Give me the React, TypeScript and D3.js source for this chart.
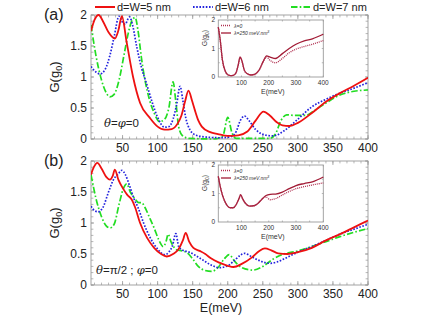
import React from "react";
import * as d3 from "d3";

// ---------- data ----------
const seriesNames = ["d=W=5 nm", "d=W=6 nm", "d=W=7 nm"];
const xTicks = [50, 100, 150, 200, 250, 300, 350, 400];
const yTicks = [0, 0.5, 1, 1.5, 2];
const yTickLabels = ["0", "0.5", "1", "1.5", "2"];
const insetXTicks = [100, 200, 300, 400];
const insetYTicks = [0, 1, 2];
const insetLegend = ["λ=0", "λ=250 meV.nm"];

// panel (a)
const aRedE = [5, 10, 16, 22, 30, 39, 44, 49, 56, 65, 75, 89, 100, 110, 120, 128, 134, 139, 144, 149, 153, 158, 163, 175, 186, 200, 215, 228, 240, 251, 260, 270, 278, 288, 300, 320, 340, 360, 380, 400];
const aRedG = [1.74, 1.92, 2.0, 1.9, 1.72, 1.62, 1.75, 1.98, 1.55, 1.0, 0.58, 0.34, 0.2, 0.15, 0.16, 0.24, 0.38, 0.6, 0.78, 0.62, 0.47, 0.3, 0.2, 0.11, 0.08, 0.05, 0.06, 0.12, 0.3, 0.44, 0.38, 0.27, 0.22, 0.21, 0.26, 0.42, 0.6, 0.74, 0.86, 0.99];
const aBlueE = [5, 12, 18, 25, 32, 38, 45, 50, 54, 57, 60, 64, 70, 77, 84, 92, 100, 110, 116, 122, 127, 132, 136, 140, 146, 155, 170, 190, 205, 212, 218, 224, 230, 240, 255, 265, 280, 300, 320, 340, 360, 380, 400];
const aBlueG = [1.17, 1.08, 1.05, 1.12, 1.35, 1.65, 1.98, 1.88, 1.85, 1.92, 1.97, 1.85, 1.5, 1.15, 0.9, 0.6, 0.35, 0.19, 0.2, 0.32, 0.55, 0.85, 0.62, 0.35, 0.15, 0.06, 0.03, 0.02, 0.04, 0.12, 0.3, 0.37, 0.3, 0.15, 0.06, 0.05, 0.13, 0.32, 0.52, 0.64, 0.74, 0.82, 0.91];
const aGreenE = [5, 12, 20, 27, 32, 38, 45, 52, 58, 63, 68, 72, 77, 82, 88, 95, 103, 110, 116, 122, 126, 130, 135, 145, 180, 193, 200, 206, 212, 260, 268, 276, 284, 295, 310, 325, 340, 360, 380, 400];
const aGreenG = [1.84, 1.35, 0.95, 0.74, 0.68, 0.72, 0.95, 1.35, 1.7, 1.9, 1.96, 1.75, 1.3, 0.95, 0.65, 0.42, 0.28, 0.32, 0.5, 0.92, 0.6, 0.2, 0.06, 0.01, 0.0, 0.05, 0.35, 0.1, 0.01, 0.01, 0.08, 0.3, 0.39, 0.38, 0.38, 0.47, 0.58, 0.71, 0.77, 0.79];

// panel (b)
const bRedE = [5, 9, 14, 20, 27, 32, 36, 39, 44, 51, 57, 63, 68, 75, 85, 95, 105, 113, 122, 130, 136, 140, 145, 151, 160, 168, 176, 188, 200, 208, 220, 235, 245, 253, 262, 272, 285, 300, 320, 340, 360, 380, 400];
const bRedG = [1.78, 1.9, 1.97, 1.88, 1.74, 1.7, 1.76, 1.86, 1.7, 1.55, 1.45, 1.38, 1.25, 1.0, 0.76, 0.6, 0.5, 0.46, 0.5, 0.58, 0.72, 0.84, 0.7, 0.6, 0.55, 0.5, 0.43, 0.36, 0.31, 0.29, 0.34, 0.45, 0.55, 0.59, 0.56, 0.51, 0.5, 0.53, 0.6, 0.72, 0.82, 0.93, 1.04];
const bBlueE = [5, 10, 15, 22, 30, 38, 43, 49, 54, 60, 66, 72, 80, 90, 100, 110, 116, 121, 126, 130, 136, 145, 155, 165, 175, 188, 200, 210, 218, 224, 235, 248, 260, 270, 280, 300, 320, 340, 360, 380, 400];
const bBlueG = [1.27, 1.2, 1.18, 1.25, 1.5, 1.72, 1.78, 1.85, 1.78, 1.6, 1.4, 1.25, 1.0, 0.75, 0.58, 0.49, 0.53, 0.63, 0.83, 0.62, 0.56, 0.53, 0.47, 0.4, 0.33, 0.28, 0.31, 0.4, 0.48, 0.51, 0.45, 0.38, 0.35, 0.37, 0.42, 0.53, 0.62, 0.72, 0.82, 0.9, 0.98];
const bGreenE = [5, 12, 20, 27, 32, 38, 45, 51, 56, 61, 67, 73, 77, 82, 88, 95, 102, 108, 112, 115, 119, 127, 135, 142, 150, 158, 166, 177, 186, 195, 202, 210, 220, 236, 250, 265, 280, 300, 320, 340, 360, 380, 400];
const bGreenG = [1.78, 1.4, 1.1, 0.95, 0.92, 0.98, 1.3, 1.55, 1.63, 1.5, 1.4, 1.33, 1.33, 1.25, 1.1, 0.92, 0.72, 0.62, 0.7, 0.82, 0.7, 0.57, 0.55, 0.52, 0.42, 0.3, 0.24, 0.22, 0.28, 0.42, 0.49, 0.38, 0.28, 0.24, 0.3, 0.42, 0.5, 0.55, 0.62, 0.7, 0.78, 0.85, 0.91];

// insets
const inAE = [15, 22, 30, 40, 50, 60, 70, 80, 88, 95, 102, 110, 120, 135, 150, 165, 180, 192, 205, 225, 250, 275, 300, 330, 360, 400];
const inASolid = [1.75, 1.3, 0.6, 0.22, 0.08, 0.05, 0.06, 0.15, 0.42, 0.7, 0.55, 0.25, 0.12, 0.07, 0.1, 0.25, 0.55, 0.74, 0.7, 0.65, 0.82, 1.0, 1.15, 1.27, 1.34, 1.5];
const inADotted = [1.75, 1.3, 0.6, 0.22, 0.08, 0.05, 0.06, 0.15, 0.42, 0.7, 0.55, 0.25, 0.12, 0.07, 0.1, 0.25, 0.55, 0.7, 0.58, 0.5, 0.65, 0.85, 0.98, 1.07, 1.15, 1.28];
const inBE = [15, 22, 30, 40, 50, 60, 70, 80, 90, 97, 104, 115, 130, 145, 160, 175, 190, 205, 225, 250, 275, 300, 330, 360, 400];
const inBSolid = [1.6, 1.25, 0.95, 0.7, 0.55, 0.5, 0.5, 0.6, 0.8, 0.96, 0.82, 0.65, 0.56, 0.57, 0.65, 0.8, 0.93, 0.97, 0.98, 1.05, 1.17, 1.28, 1.35, 1.41, 1.58];
const inBDotted = [1.6, 1.25, 0.95, 0.7, 0.55, 0.5, 0.5, 0.6, 0.8, 0.96, 0.82, 0.65, 0.56, 0.57, 0.65, 0.8, 0.88, 0.78, 0.82, 0.95, 1.07, 1.17, 1.24, 1.3, 1.37];

// ---------- style ----------
const COLORS = ["#ee1111", "#2222dd", "#22dd22"];
const DASH = [null, "1.6 1.6", "6.5 2.2 1.6 2.2"];
const INSET_COLOR = "#a21b35";
const FONT = "'Liberation Sans', Arial, sans-serif";
const FRAME = "#9a9a9a";

const W = 445, H = 319;
const xMain = d3.scaleLinear().domain([5, 400]).range([91, 368]);

type Pt = [number, number];
const zip = (e: number[], g: number[]): Pt[] => e.map((v, i) => [v, g[i]]);

function Frame({ x, y, minorX, minorY, tickLen = 3 }: any) {
  const [x0, x1] = x.range();
  const [y0, y1] = y.range();
  const els: any[] = [];
  minorX.forEach((t: number, i: number) => {
    const px = x(t);
    els.push(<line key={"mxb" + i} x1={px} x2={px} y1={y0} y2={y0 - tickLen * 0.6} stroke={FRAME} strokeWidth={0.7} />);
    els.push(<line key={"mxt" + i} x1={px} x2={px} y1={y1} y2={y1 + tickLen * 0.6} stroke={FRAME} strokeWidth={0.7} />);
  });
  minorY.forEach((t: number, i: number) => {
    const py = y(t);
    els.push(<line key={"myl" + i} x1={x0} x2={x0 + tickLen * 0.6} y1={py} y2={py} stroke={FRAME} strokeWidth={0.7} />);
    els.push(<line key={"myr" + i} x1={x1} x2={x1 - tickLen * 0.6} y1={py} y2={py} stroke={FRAME} strokeWidth={0.7} />);
  });
  return (
    <g>
      <rect x={x0} y={y1} width={x1 - x0} height={y0 - y1} fill="white" stroke={FRAME} strokeWidth={0.9} />
      {els}
    </g>
  );
}

function Panel({ top, data, label, note, insetTop, inset, showXTitle }: any) {
  const y = d3.scaleLinear().domain([0, 2]).range([top + 124, top]);
  const line = d3.line<Pt>().x((d) => xMain(d[0])).y((d) => y(d[1])).curve(d3.curveMonotoneX);
  const minorX = d3.range(10, 401, 10);
  const minorY = d3.range(0, 2.01, 0.1);
  // inset
  const ix = d3.scaleLinear().domain([15, 400]).range([218.3, 323.3]);
  const iy = d3.scaleLinear().domain([0, 2]).range([insetTop + 57, insetTop]);
  const iline = d3.line<Pt>().x((d) => ix(d[0])).y((d) => iy(d[1])).curve(d3.curveMonotoneX);
  return (
    <g>
      <Frame x={xMain} y={y} minorX={minorX} minorY={minorY} tickLen={4} />
      {yTicks.map((t, i) => (
        <g key={"yt" + i}>
          <line x1={91} x2={94} y1={y(t)} y2={y(t)} stroke={FRAME} strokeWidth={0.8} />
          <line x1={368} x2={365} y1={y(t)} y2={y(t)} stroke={FRAME} strokeWidth={0.8} />
          <text x={87} y={y(t)} dy="0.35em" textAnchor="end" fontSize={12} fill="#222" fontFamily={FONT}>{yTickLabels[i]}</text>
        </g>
      ))}
      {xTicks.map((t, i) => (
        <g key={"xt" + i}>
          <line x1={xMain(t)} x2={xMain(t)} y1={top + 124} y2={top + 120} stroke={FRAME} strokeWidth={0.8} />
          <line x1={xMain(t)} x2={xMain(t)} y1={top} y2={top + 4} stroke={FRAME} strokeWidth={0.8} />
          <text x={xMain(t)} y={top + 136.5} textAnchor="middle" fontSize={12} fill="#222" fontFamily={FONT}>{t}</text>
        </g>
      ))}
      <text transform={`translate(59,${top + 62}) rotate(-90)`} textAnchor="middle" fontSize={13} fill="#222" fontFamily={FONT}>
        G(g<tspan fontSize={9} dy={3}>0</tspan><tspan dy={-3}>)</tspan>
      </text>
      <text x={44} y={top + 5} fontSize={16} fill="#222" fontFamily={FONT}>{label}</text>
      {showXTitle && (
        <text x={221} y={top + 151} textAnchor="middle" fontSize={12.5} fill="#222" fontFamily={FONT}>E(meV)</text>
      )}
      <defs>
        <clipPath id={"clip" + top}>
          <rect x={91} y={top - 1} width={277} height={126} />
        </clipPath>
      </defs>
      <g clipPath={`url(#clip${top})`}>
        {[2, 1, 0].map((k) => (
          <path key={"s" + k} d={line(data[k]) || ""} fill="none" stroke={COLORS[k]} strokeWidth={k === 0 ? 1.8 : 1.7}
            strokeDasharray={DASH[k] || undefined} />
        ))}
      </g>
      {note}
      {/* inset */}
      <Frame x={ix} y={iy} minorX={d3.range(50, 401, 50)} minorY={[0.5, 1, 1.5]} tickLen={2.5} />
      {insetXTicks.map((t, i) => (
        <text key={"ixt" + i} x={ix(t)} y={insetTop + 65} textAnchor="middle" fontSize={6.5} fill="#333" fontFamily={FONT}>{t}</text>
      ))}
      {insetYTicks.map((t, i) => (
        <text key={"iyt" + i} x={215} y={iy(t)} dy="0.35em" textAnchor="end" fontSize={6.5} fill="#333" fontFamily={FONT}>{t}</text>
      ))}
      <text x={ix(215)} y={insetTop + 74} textAnchor="middle" fontSize={7} fill="#333" fontFamily={FONT}>E(meV)</text>
      <text transform={`translate(207,${insetTop + 18}) rotate(-90)`} textAnchor="middle" fontSize={6.5} fill="#333" fontFamily={FONT}>
        G(g<tspan fontSize={5} dy={1.5}>0</tspan><tspan dy={-1.5}>)</tspan>
      </text>
      <path d={iline(inset[1]) || ""} fill="none" stroke={INSET_COLOR} strokeWidth={1.3} />
      <path d={iline(inset[0]) || ""} fill="none" stroke="#b03050" strokeWidth={1.3} strokeDasharray="1 1" />
      <line x1={221} x2={231} y1={insetTop + 5.5} y2={insetTop + 5.5} stroke="#b03050" strokeWidth={1.3} strokeDasharray="1 1" />
      <line x1={221} x2={231} y1={insetTop + 13} y2={insetTop + 13} stroke={INSET_COLOR} strokeWidth={1.3} />
      <text x={234} y={insetTop + 7.5} fontSize={5} fontStyle="italic" fill="#333" fontFamily={FONT}>{insetLegend[0]}</text>
      <text x={234} y={insetTop + 15} fontSize={5} fontStyle="italic" fill="#333" fontFamily={FONT}>
        {insetLegend[1]}<tspan fontSize={3.5} dy={-2}>3</tspan>
      </text>
    </g>
  );
}

export default function App() {
  const aData = [zip(aRedE, aRedG), zip(aBlueE, aBlueG), zip(aGreenE, aGreenG)];
  const bData = [zip(bRedE, bRedG), zip(bBlueE, bBlueG), zip(bGreenE, bGreenG)];
  const legendX = [95, 193, 291];
  return (
    <svg width={W} height={H} style={{ position: "absolute", left: 0, top: 0, background: "white" }}>
      <rect width={W} height={H} fill="white" />
      <Panel top={15} data={aData} label="(a)" insetTop={20}
        inset={[zip(inAE, inADotted), zip(inAE, inASolid)]}
        note={<text x={104} y={127} fontSize={11.5} fill="#222" fontFamily={FONT}>
          <tspan fontStyle="italic" fontFamily="'DejaVu Serif', serif">θ</tspan>=<tspan fontStyle="italic" fontFamily="'DejaVu Serif', serif">φ</tspan>=0
        </text>} />
      <Panel top={161} data={bData} label="(b)" insetTop={165}
        inset={[zip(inBE, inBDotted), zip(inBE, inBSolid)]} showXTitle
        note={<text x={96} y={274} fontSize={11.5} fill="#222" fontFamily={FONT}>
          <tspan fontStyle="italic" fontFamily="'DejaVu Serif', serif">θ</tspan>=π/2 ; <tspan fontStyle="italic" fontFamily="'DejaVu Serif', serif">φ</tspan>=0
        </text>} />
      {seriesNames.map((n, k) => (
        <g key={"lg" + k}>
          <line x1={legendX[k]} x2={legendX[k] + 20} y1={7} y2={7} stroke={COLORS[k]} strokeWidth={2} strokeDasharray={DASH[k] || undefined} />
          <text x={legendX[k] + 22} y={11} fontSize={11} fill="#222" fontFamily={FONT}>{n}</text>
        </g>
      ))}
    </svg>
  );
}
